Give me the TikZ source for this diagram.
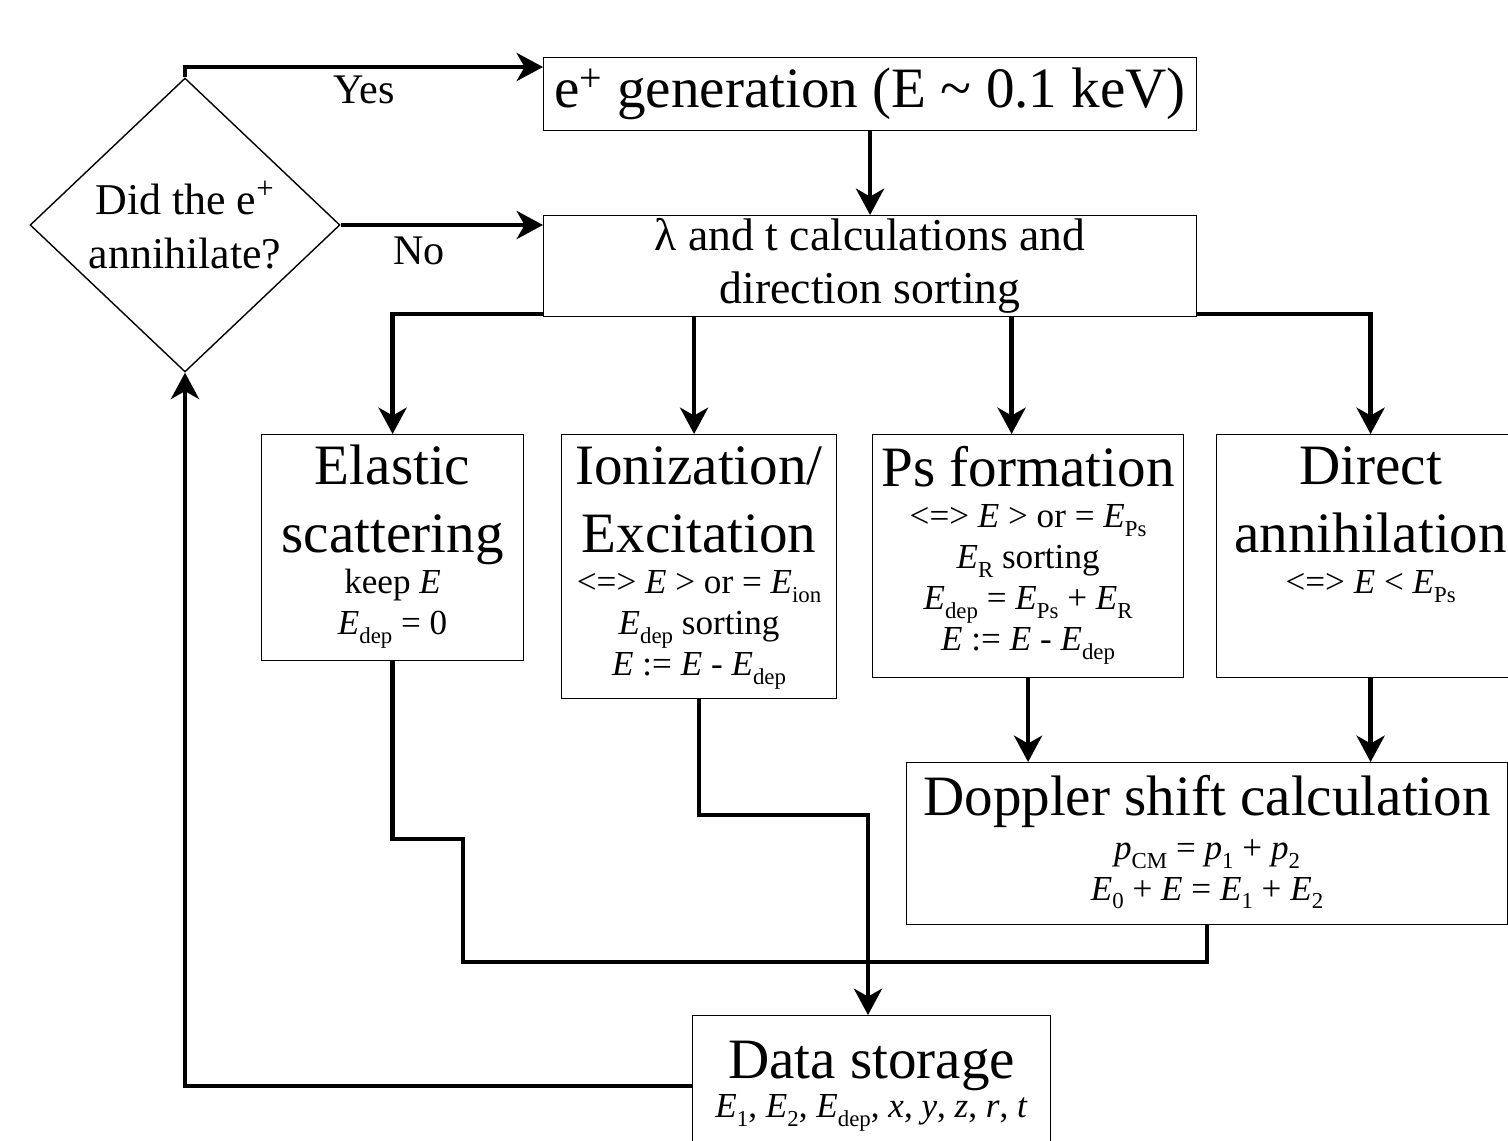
\documentclass[tikz,border=0pt]{standalone}
\usepackage{fontspec}
\setmainfont{Liberation Serif}
\usetikzlibrary{arrows.meta, shapes.geometric}

\newcommand{\titlesize}{\fontsize{32.5}{38.7}\selectfont}
\newcommand{\notesize}{\fontsize{20}{23.3}\selectfont}
\newcommand{\lowtext}[1]{\raisebox{-0.25em}{\fontsize{13}{13}\selectfont #1}}
\newcommand{\Esub}[1]{\textit{E}\lowtext{#1}}
\newcommand{\boxtext}[3]{\parbox[t][#2][t]{#1}{\centering\lineskiplimit=-50pt #3}}

\tikzset{
	block/.style={draw, line width=0.7pt, inner sep=0pt, anchor=north west},
	flow/.style={line width=2.4pt, -{Stealth[length=15pt, width=16pt, inset=4.5pt]}},
	link/.style={line width=2.4pt},
}

\begin{document}
\begin{tikzpicture}[x=0.02cm,y=-0.02cm]
				\useasboundingbox (0,0) rectangle (1508,1140);
				\node[draw, diamond, line width=0.8pt, inner sep=0pt, shape aspect=1.1, minimum width=6.2cm, minimum height=5.88cm, align=center, font=\fontsize{25}{30.7}\selectfont] (dia) at (185,225) {Did the e\textsuperscript{+}\\annihilate?};
				\node[block, minimum width=13.06cm, minimum height=1.46cm, font=\titlesize] (gen) at (543,57) {e\textsuperscript{+} generation (E \textasciitilde{} 0.1 keV)};
				\node[block, minimum width=13.06cm, minimum height=2.02cm, align=center, font=\fontsize{26}{30}\selectfont] (calc) at (543,215) {λ and t calculations and\\direction sorting};
				\node[block] (elastic) at (261,434) {\boxtext{5.24cm}{4.52cm}{%
					{\titlesize\rule{0pt}{28.4pt}Elastic\\scattering\par}
					{\notesize keep \textit{E}\\\Esub{dep} = 0\par}}};
				\node[block] (ion) at (561,434) {\boxtext{5.5cm}{5.28cm}{%
					{\titlesize\rule{0pt}{28.4pt}Ionization/\\Excitation\par}
					{\notesize <=> \textit{E} > or = \Esub{ion}\\\Esub{dep} sorting\\\textit{E} := \textit{E} - \Esub{dep}\par}}};
				\node[block] (ps) at (872,434) {\boxtext{6.22cm}{4.86cm}{%
					{\titlesize\rule{0pt}{29.6pt}Ps formation\par}
					{\notesize <=> \textit{E} > or = \Esub{Ps}\\\Esub{R} sorting\\\Esub{dep} = \Esub{Ps} + \Esub{R}\\\textit{E} := \textit{E} - \Esub{dep}\par}}};
				\node[block] (direct) at (1216,434) {\boxtext{6.16cm}{4.86cm}{%
					{\titlesize\rule{0pt}{28.4pt}Direct\\annihilation\par}
					{\notesize <=> \textit{E} < \Esub{Ps}\par}}};
				\node[block] (doppler) at (906,762) {\boxtext{12.02cm}{3.24cm}{%
					{\titlesize\rule{0pt}{30.2pt}Doppler shift calculation\par}
					\vskip 2pt
					{\fontsize{20}{23}\selectfont\textit{p}\lowtext{CM} = \textit{p}\lowtext{1} + \textit{p}\lowtext{2}\\\Esub{0} + \textit{E} = \Esub{1} + \Esub{2}\par}}};
				\node[block] (data) at (692,1015) {\boxtext{7.16cm}{2.8cm}{%
					{\titlesize\rule{0pt}{35.8pt}Data storage\par}
					{\fontsize{20}{22.2}\selectfont\Esub{1}, \Esub{2}, \Esub{dep}, \textit{x}, \textit{y}, \textit{z}, \textit{r}, \textit{t}\par}}};
				\node[font=\fontsize{24}{28}\selectfont, anchor=base] (yes) at (364,103) {Yes};
				\node[font=\fontsize{24}{28}\selectfont, anchor=base] (no) at (419,264) {No};
				\coordinate (jogA) at (463,839);
				\coordinate (bus) at (463,962);
				\coordinate (jogB) at (868,815);
				\draw[flow] (dia.north) |- ([yshift=-0.2cm]gen.north west);
				\draw[flow] (dia.east) -- (dia.east -| calc.west);
				\draw[flow] (gen.south) -- (calc.north);
				\draw[flow] ([yshift=0.06cm]calc.south west) -| (elastic.north);
				\draw[flow] ([xshift=-0.1cm]ion.north |- calc.south) -- ([xshift=-0.1cm]ion.north);
				\draw[flow] ([xshift=-0.33cm]ps.north |- calc.south) -- ([xshift=-0.33cm]ps.north);
				\draw[flow] ([yshift=0.06cm]calc.south east) -| (direct.north);
				\draw[flow] (ps.south) -- (ps.south |- doppler.north);
				\draw[flow] (direct.south) -- (direct.south |- doppler.north);
				\draw[link] (elastic.south) |- (jogA) -- (bus) -| (doppler.south);
				\draw[flow] (ion.south) |- (jogB) -- (jogB |- data.north);
				\draw[flow] (data.west) -| (dia.south);
\end{tikzpicture}
\end{document}
